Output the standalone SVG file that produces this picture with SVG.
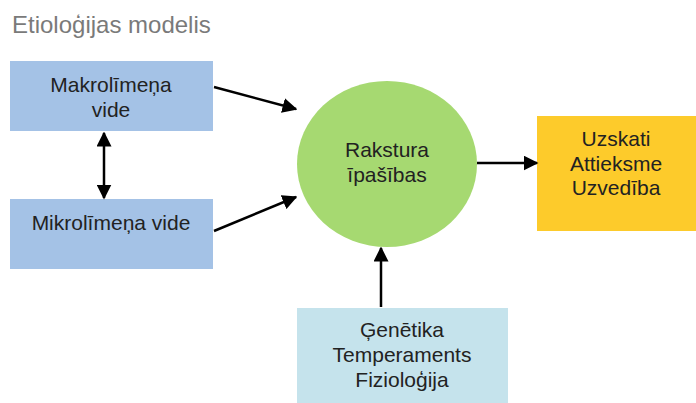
<svg xmlns="http://www.w3.org/2000/svg" width="696" height="403" viewBox="0 0 696 403">
<defs>
<marker id="ah" viewBox="0 0 10 10" refX="9" refY="5" markerWidth="15" markerHeight="15" markerUnits="userSpaceOnUse" orient="auto-start-reverse">
<path d="M0,0 L10,5 L0,10 z" fill="#000"/>
</marker>
<style>
.t{font-family:"Liberation Sans",Arial,sans-serif;font-size:21px;fill:#222;text-anchor:middle}
.c{stroke:#000;stroke-width:2.5;fill:none;marker-end:url(#ah)}
</style>
</defs>
<rect width="696" height="403" fill="#fff"/>
<text x="12" y="33" font-family="Liberation Sans, Arial, sans-serif" font-size="24" fill="#7a7a7a">Etioloģijas modelis</text>
<g id="makro">
<rect x="10" y="61" width="203" height="70" fill="#a4c2e6"/>
<text class="t" x="111" y="92">Makrolīmeņa</text>
<text class="t" x="111" y="117">vide</text>
</g>
<g id="mikro">
<rect x="10" y="199" width="203" height="70" fill="#a4c2e6"/>
<text class="t" x="111" y="230">Mikrolīmeņa vide</text>
</g>
<g id="rakstura">
<ellipse cx="387" cy="164" rx="90" ry="83" fill="#a6d971"/>
<text class="t" x="387" y="157">Rakstura</text>
<text class="t" x="387" y="182">īpašības</text>
</g>
<g id="uzskati">
<rect x="537" y="116" width="159" height="115" fill="#fdcb2b"/>
<text class="t" x="616" y="146">Uzskati</text>
<text class="t" x="616" y="171">Attieksme</text>
<text class="t" x="616" y="195">Uzvedība</text>
</g>
<g id="genetika">
<rect x="297" y="308" width="211" height="95" fill="#c5e3ec"/>
<text class="t" x="402" y="337">Ģenētika</text>
<text class="t" x="402" y="362">Temperaments</text>
<text class="t" x="402" y="387">Fizioloģija</text>
</g>
<g id="connectors">
<line class="c" x1="104" y1="133" x2="104" y2="198" marker-start="url(#ah)"/>
<line class="c" x1="214" y1="87" x2="296" y2="109"/>
<line class="c" x1="214" y1="231" x2="296" y2="197"/>
<line class="c" x1="477" y1="163" x2="537" y2="163"/>
<line class="c" x1="381" y1="307" x2="381" y2="248"/>
</g>
</svg>
